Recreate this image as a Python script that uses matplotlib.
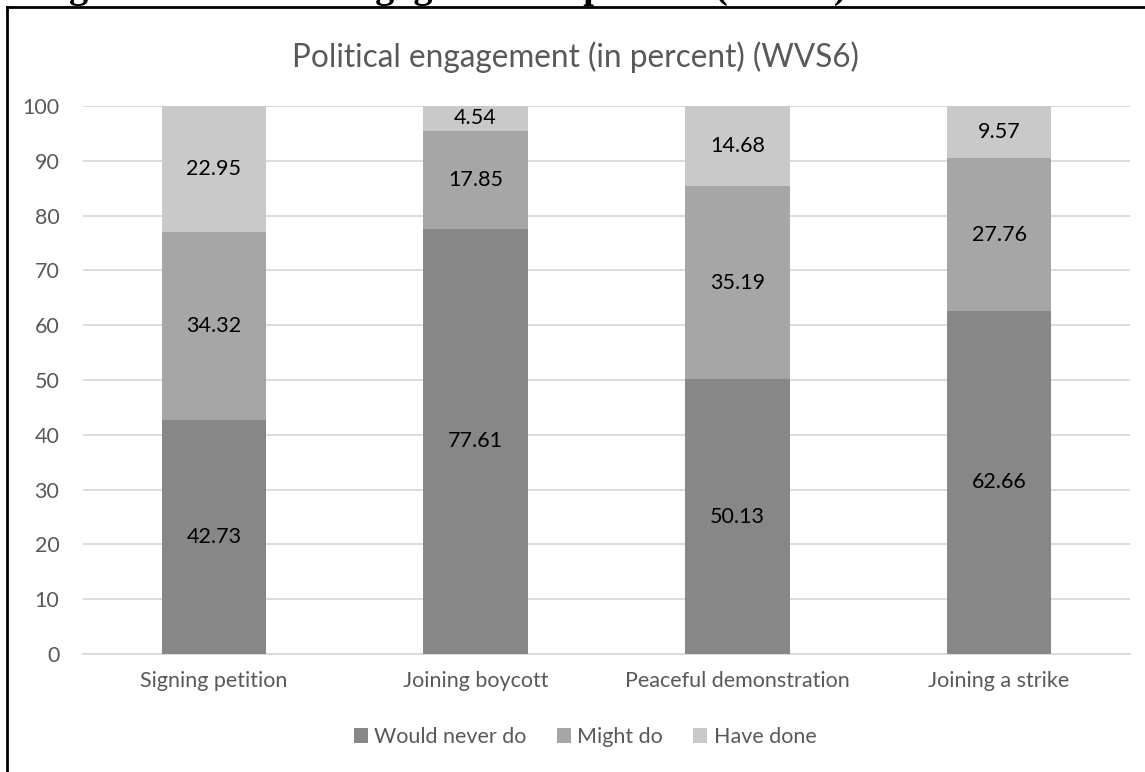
import matplotlib
matplotlib.use("Agg")
import matplotlib.pyplot as plt
from matplotlib.lines import Line2D
import numpy as np

categories = ["Signing petition", "Joining boycott", "Peaceful demonstration", "Joining a strike"]
series_names = ["Would never do", "Might do", "Have done"]
would_never = [42.73, 77.61, 50.13, 62.66]
might_do = [34.32, 17.85, 35.19, 27.76]
have_done = [22.95, 4.54, 14.68, 9.57]
yticks = [0, 10, 20, 30, 40, 50, 60, 70, 80, 90, 100]

colors = ["#878787", "#a6a6a6", "#c9c9c9"]
text_gray = "#595959"
grid_gray = "#d9d9d9"
font = "Lato"
fs = 15.5

W, H = 1145, 772
fig = plt.figure(figsize=(W / 100, H / 100), dpi=100)

# axes placed in pixel units
left, right, top, bottom = 83, 1130, 106, 654
ax = fig.add_axes([left / W, 1 - bottom / H, (right - left) / W, (bottom - top) / H])

x = np.arange(len(categories))
width = 0.4
base = np.zeros(len(categories))
for name, vals, col in zip(series_names, [would_never, might_do, have_done], colors):
    ax.bar(x, vals, width, bottom=base, color=col, label=name, zorder=3)
    for xi, b, v in zip(x, base, vals):
        ax.text(xi, b + v / 2, f"{v:.2f}", ha="center", va="center",
                fontsize=fs, color="black", family=font, zorder=4)
    base = base + np.array(vals)

ax.set_xlim(-0.5, 3.5)
ax.set_ylim(0, 100)
ax.set_yticks(yticks)
ax.set_yticklabels([str(t) for t in yticks], family=font, fontsize=fs, color=text_gray)
ax.set_xticks(x)
ax.set_xticklabels(categories, family=font, fontsize=fs, color=text_gray)
ax.tick_params(axis="both", length=0)
ax.tick_params(axis="y", pad=17)
ax.tick_params(axis="x", pad=12)
ax.yaxis.grid(True, color=grid_gray, linewidth=1.3, zorder=0)
for s in ["top", "right", "left"]:
    ax.spines[s].set_visible(False)
ax.spines["bottom"].set_color(grid_gray)
ax.spines["bottom"].set_linewidth(1.3)
ax.spines["bottom"].set_zorder(2)

# chart title
fig.text(575 / W, 1 - 57 / H, "Political engagement (in percent) (WVS6)",
         ha="center", va="center", fontsize=22.7, color=text_gray, family=font)

# legend
leg = fig.legend(loc="center", bbox_to_anchor=(585 / W, 1 - 737 / H), ncol=3,
                 frameon=False, prop={"family": font, "size": fs},
                 handlelength=0.65, handleheight=0.65, handletextpad=0.3,
                 columnspacing=1.4)
for t in leg.get_texts():
    t.set_color(text_gray)

# chart frame (left and top edges)
fig.add_artist(Line2D([7 / W, 7 / W], [0, 1 - 7 / H], color="black", linewidth=2.0,
                      transform=fig.transFigure))
fig.add_artist(Line2D([7 / W, 1], [1 - 7 / H, 1 - 7 / H], color="black", linewidth=2.0,
                      transform=fig.transFigure))

# document caption above the chart, mostly outside the page
fig.text(847 / W, 1 - 6 / H, "Figure 3: Political engagement in percent (WVS6)",
         ha="right", va="bottom", fontsize=27.5, fontweight="bold",
         family="Liberation Serif", color="black")

fig.savefig("out.png", dpi=100)
